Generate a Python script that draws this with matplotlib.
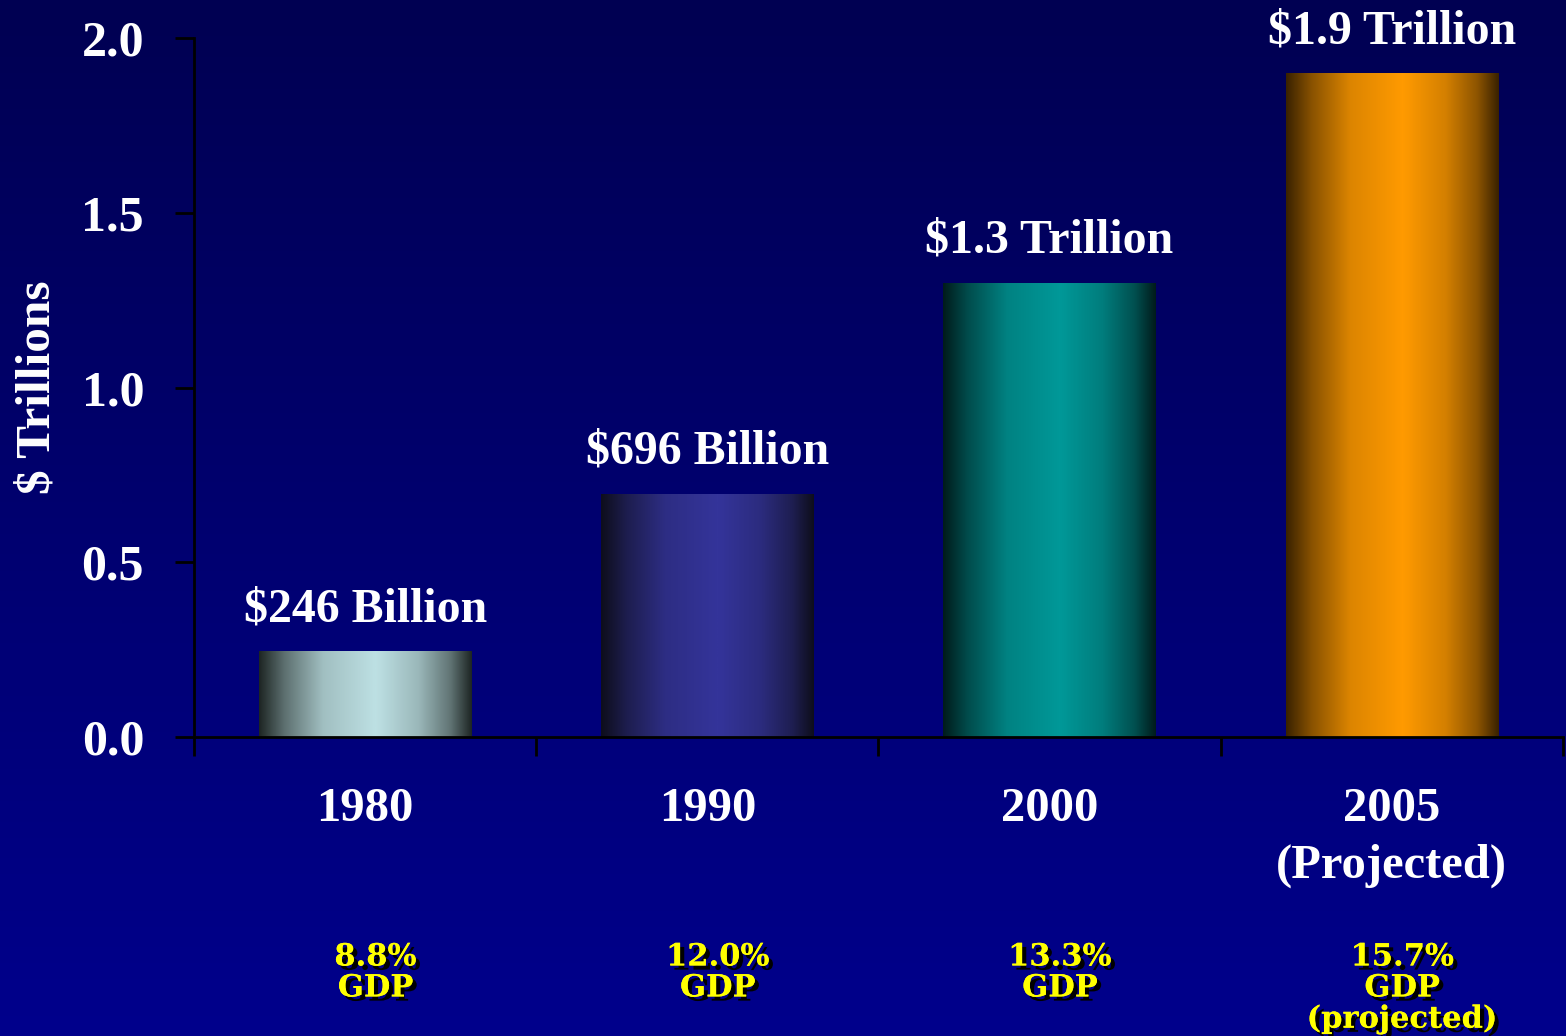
import matplotlib
matplotlib.use("Agg")
import matplotlib.pyplot as plt
import matplotlib.patheffects as pe
from matplotlib.colors import LinearSegmentedColormap
import numpy as np

years = ["1980", "1990", "2000", "2005\n(Projected)"]
spending = [0.246, 0.696, 1.3, 1.9]
value_labels = ["$246 Billion", "$696 Billion", "$1.3 Trillion", "$1.9 Trillion"]
gdp_labels = ["8.8%\nGDP", "12.0%\nGDP", "13.3%\nGDP", "15.7%\nGDP\n(projected)"]

# edge / centre colours for the cylinder-like shading of each bar
bar_shades = [
    ("#1e2624", "#bde0e3"),
    ("#0e0e1c", "#34349a"),
    ("#001c1c", "#009898"),
    ("#3a2200", "#ff9a00"),
]

plt.rcParams["font.family"] = "Liberation Serif"
plt.rcParams["font.weight"] = "bold"

fig = plt.figure(figsize=(15.66, 10.36), dpi=100)

# navy background, a bit darker at the top
bg = fig.add_axes([0, 0, 1, 1])
bg.imshow(np.linspace(0, 1, 256).reshape(-1, 1),
          cmap=LinearSegmentedColormap.from_list("bg", ["#000052", "#00008c"]),
          aspect="auto", extent=[0, 1, 0, 1], origin="upper")
bg.axis("off")

ax = fig.add_axes([0.1239, 0.2886, 0.8741, 0.6747])
ax.patch.set_visible(False)

x = np.arange(len(years))
bars = ax.bar(x, spending, width=0.62, color="none", edgecolor="none", zorder=2)

ramp = np.array([0.0, 0.12, 0.3, 0.55, 0.75, 0.9, 1.0])
shade = np.array([0.0, 0.4, 0.82, 1.0, 0.78, 0.42, 0.0])
xs = np.linspace(0, 1, 300)
profile = np.interp(xs, ramp, shade).reshape(1, -1)
for bar, (dark, light) in zip(bars, bar_shades):
    cmap = LinearSegmentedColormap.from_list("b", [dark, light])
    x0, w, h = bar.get_x(), bar.get_width(), bar.get_height()
    im = ax.imshow(profile, cmap=cmap, aspect="auto",
                   extent=[x0, x0 + w, 0, h], zorder=2)
    im.set_clip_path(bar)

for xi, v, lab in zip(x, spending, value_labels):
    ax.text(xi, v + 0.12, lab, ha="center", va="center", color="white",
            fontsize=34.5, fontweight="bold", clip_on=False)

for xi, lab in zip(x, gdp_labels):
    ax.text(xi + 0.03, -0.585, lab, ha="center", va="top", color="#ffff00",
            fontsize=22, fontweight="bold", linespacing=1.0,
            family="DejaVu Serif",
            path_effects=[pe.withSimplePatchShadow(offset=(3, -3), shadow_rgbFace="black", alpha=1.0),
                          pe.Normal()])

ax.set_xlim(-0.5, 3.5)
ax.set_ylim(0, 2.0)
ax.set_yticks([0, 0.5, 1.0, 1.5, 2.0])
ax.set_yticklabels(["0.0", "0.5", "1.0", "1.5", "2.0"])
ax.set_xticks(x)
ax.set_xticklabels(years, linespacing=1.37)
ax.set_xticks(np.arange(-0.5, 4.0, 1.0), minor=True)
ax.tick_params(axis="x", which="major", length=0, pad=36, labelsize=35, labelcolor="white")
ax.tick_params(axis="x", which="minor", length=14, width=2, color="black")
ax.tick_params(axis="y", length=14, width=2, color="black", pad=22,
               labelsize=36, labelcolor="white")
for t in ax.get_xticklabels() + ax.get_yticklabels():
    t.set_fontweight("bold")

for side in ["top", "right"]:
    ax.spines[side].set_visible(False)
for side in ["left", "bottom"]:
    ax.spines[side].set_color("black")
    ax.spines[side].set_linewidth(2)

ax.set_ylabel("$ Trillions", color="white", fontsize=35.5, fontweight="bold", labelpad=16)

fig.savefig("out.png", dpi=100, facecolor=fig.get_facecolor())
